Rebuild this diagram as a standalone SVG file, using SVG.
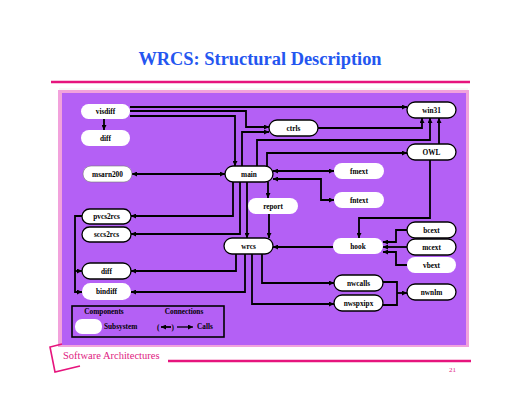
<svg xmlns="http://www.w3.org/2000/svg" width="520" height="402" viewBox="0 0 520 402">
<style>
.n rect{fill:#fff}
.n rect.b{stroke:#000;stroke-width:1.3}
.n rect.g{stroke:#777;stroke-width:0.6}
.n text,.lg text{font-family:"Liberation Serif","Times New Roman",serif;font-weight:bold;font-size:7.3px;fill:#000}
.n text{text-anchor:middle}
.c path{fill:none;stroke:#000;stroke-width:1.8}
.e{marker-end:url(#a)}
.s{marker-start:url(#a)}
</style>
<defs>
<marker id="a" viewBox="0 0 6 6" refX="6" refY="3" markerWidth="5" markerHeight="5" markerUnits="userSpaceOnUse" orient="auto-start-reverse">
<path d="M0,0 L6,3 L0,6 z" fill="#000"/>
</marker>
</defs>
<rect width="520" height="402" fill="#fff"/>
<text x="260" y="65" text-anchor="middle" font-family="'Liberation Serif','Times New Roman',serif" font-weight="bold" font-size="18.4" fill="#2456f0">WRCS: Structural Description</text>
<path d="M51,82 H470" stroke="#e6147d" stroke-width="2.5"/>
<path d="M59,89 H468" stroke="#eee" stroke-width="0.8"/>
<rect x="58" y="90" width="411" height="257" fill="#f2a2dc"/>
<rect x="62" y="93" width="404" height="252" fill="#b460f5"/>

<g class="c">
<path class="e" d="M104,119 V130"/>
<path class="e" d="M130,107 H407"/>
<path class="e" d="M130,111 H246 V127 H269"/>
<path class="e" d="M130,116 H235 V166"/>
<path class="e s" d="M132,174 H225"/>
<path class="e" d="M242,166 V132 H269"/>
<path class="e" d="M257,166 V140 H430 V118"/>
<path class="e" d="M267,166 V153 H407"/>
<path class="e" d="M318,128 H422 V118"/>
<path class="e" d="M439,144 V118"/>
<path class="e s" d="M273,171 H334"/>
<path class="e s" d="M273,179 H321 V200 H334"/>
<path class="e" d="M268,182 V198"/>
<path class="e" d="M233,182 V216 H131"/>
<path class="e" d="M240,182 V234 H131"/>
<path class="e" d="M247,182 V238"/>
<path class="e" d="M269,214 V238"/>
<path class="e" d="M430,160 V218 H359 V238"/>
<path class="e" d="M333,247 H273"/>
<path class="e" d="M407,230 H396 V242 H383"/>
<path class="e" d="M407,247 H383"/>
<path class="e" d="M407,265 H396 V252 H383"/>
<path class="e" d="M262,254 V283 H334"/>
<path class="e" d="M252,254 V304 H334"/>
<path d="M383,282 H397 V305 H383"/>
<path class="e" d="M397,293 H407"/>
<path class="e" d="M236,254 V271 H131"/>
<path class="e" d="M245,254 V292 H131"/>
<path class="e" d="M82,216 H75 V292 H82"/>
<path class="e" d="M75,271 H82"/>
</g>

<g id="visdiff" class="n"><rect x="81" y="104" width="49" height="15" rx="7.5"/><text x="105.5" y="114">visdiff</text></g>
<g id="diff1" class="n"><rect x="81" y="130" width="49" height="16" rx="8"/><text x="105.5" y="140.5">diff</text></g>
<g id="msarn200" class="n"><rect class="g" x="83" y="166" width="49" height="16" rx="8"/><text x="107.5" y="176.5">msarn200</text></g>
<g id="main" class="n"><rect class="b" x="225" y="166" width="48" height="16" rx="8"/><text x="249" y="176.5">main</text></g>
<g id="ctrls" class="n"><rect class="b" x="269" y="120" width="49" height="16" rx="8"/><text x="293.5" y="130.5">ctrls</text></g>
<g id="win31" class="n"><rect class="b" x="407" y="102" width="49" height="16" rx="8"/><text x="431.5" y="112.5">win31</text></g>
<g id="OWL" class="n"><rect class="b" x="407" y="144" width="49" height="16" rx="8"/><text x="431.5" y="154.5">OWL</text></g>
<g id="fmext" class="n"><rect x="334" y="163" width="50" height="16" rx="8"/><text x="359" y="173.5">fmext</text></g>
<g id="fntext" class="n"><rect x="334" y="192" width="50" height="16" rx="8"/><text x="359" y="202.5">fntext</text></g>
<g id="report" class="n"><rect x="248" y="198" width="50" height="16" rx="8"/><text x="273" y="208.5">report</text></g>
<g id="pvcs2rcs" class="n"><rect class="b" x="82" y="209" width="49" height="15" rx="7.5"/><text x="106.5" y="219">pvcs2rcs</text></g>
<g id="sccs2rcs" class="n"><rect class="b" x="82" y="227" width="49" height="15" rx="7.5"/><text x="106.5" y="237">sccs2rcs</text></g>
<g id="wrcs" class="n"><rect class="b" x="224" y="238" width="49" height="16" rx="8"/><text x="248.5" y="248.5">wrcs</text></g>
<g id="hook" class="n"><rect x="333" y="238" width="50" height="16" rx="8"/><text x="358" y="248.5">hook</text></g>
<g id="bcext" class="n"><rect class="b" x="407" y="222" width="49" height="16" rx="8"/><text x="431.5" y="232.5">bcext</text></g>
<g id="mcext" class="n"><rect class="b" x="407" y="239" width="49" height="16" rx="8"/><text x="431.5" y="249.5">mcext</text></g>
<g id="vbext" class="n"><rect x="407" y="257" width="49" height="16" rx="8"/><text x="431.5" y="267.5">vbext</text></g>
<g id="diff2" class="n"><rect class="b" x="82" y="263" width="49" height="16" rx="8"/><text x="106.5" y="273.5">diff</text></g>
<g id="bindiff" class="n"><rect x="82" y="283" width="49" height="17" rx="8.5"/><text x="106.5" y="294">bindiff</text></g>
<g id="nwcalls" class="n"><rect class="b" x="334" y="275" width="49" height="16" rx="8"/><text x="358.5" y="285.5">nwcalls</text></g>
<g id="nwspxipx" class="n"><rect class="b" x="334" y="295" width="49" height="16" rx="8"/><text x="358.5" y="305.5">nwspxipx</text></g>
<g id="nwnlm" class="n"><rect class="b" x="407" y="284" width="49" height="16" rx="8"/><text x="431.5" y="294.5">nwnlm</text></g>

<g id="legend" class="lg">
<rect x="72" y="306" width="152" height="31" fill="none" stroke="#000" stroke-width="1.6"/>
<text x="104" y="314" text-anchor="middle">Components</text>
<text x="184" y="314" text-anchor="middle">Connections</text>
<rect x="75" y="319" width="27" height="15" rx="7" fill="#fff"/>
<text x="104" y="329">Subsystem</text>
<text x="157" y="329.5">(</text>
<text x="171.5" y="329.5">)</text>
<text x="197" y="329">Calls</text>
<path d="M171,327 H161" stroke="#000" stroke-width="1.8" marker-end="url(#a)"/>
<path d="M177,327 H193" stroke="#000" stroke-width="1.3" marker-end="url(#a)"/>
</g>

<path d="M62,344 L50,347 L55,372 L80,366" fill="none" stroke="#e6147d" stroke-width="1.6"/>
<text x="63" y="359" font-family="'Liberation Serif','Times New Roman',serif" font-size="10.5" fill="#e0187f">Software Architectures</text>
<path d="M168,361 H471" stroke="#e6147d" stroke-width="2.5"/>
<text x="449" y="372" font-family="'Liberation Serif','Times New Roman',serif" font-size="7" fill="#e0187f">21</text>
</svg>
